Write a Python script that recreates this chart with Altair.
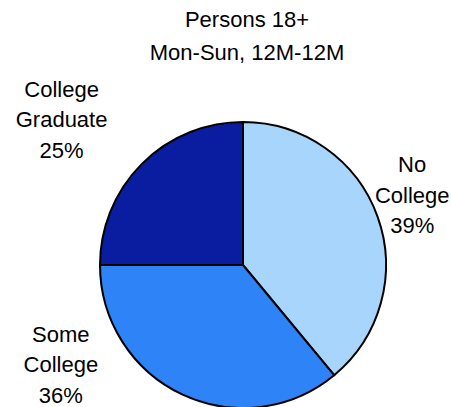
import altair as alt
import pandas as pd

categories = ["No College", "Some College", "College Graduate"]
shares = [39, 36, 25]
label_lines = [["No", "College", "39%"], ["Some", "College", "36%"], ["College", "Graduate", "25%"]]
colors = ["#a8d5fc", "#2e83f7", "#0a1ca0"]
title_lines = ["Persons 18+", "Mon-Sun, 12M-12M"]

df = pd.DataFrame({
    "category": categories,
    "share": shares,
    "order": list(range(len(categories))),
    "label": label_lines,
})

FONT = "Liberation Sans"
CX, CY, R = 243, 265, 143
theta_scale = alt.Scale(domain=[0, 100])

pie = alt.Chart(df).mark_arc(outerRadius=R, stroke="black", strokeWidth=2).encode(
    theta=alt.Theta("share:Q", stack=True, scale=theta_scale),
    order=alt.Order("order:Q"),
    x=alt.value(CX),
    y=alt.value(CY),
    color=alt.Color("category:N", scale=alt.Scale(domain=categories, range=colors), legend=None),
)

offsets = {
    "No College": (-19, -25),
    "Some College": (-97, -104),
    "College Graduate": (-40, -27),
}

label_base = alt.Chart(df).transform_window(
    cum="sum(share)", sort=[alt.SortField("order")]
).transform_calculate(mid="datum.cum - datum.share / 2")

label_layers = []
for cat in categories:
    dx, dy = offsets[cat]
    label_layers.append(
        label_base.transform_filter(alt.datum.category == cat).mark_text(
            radius=200, dx=dx, dy=dy, font=FONT, fontSize=22, lineHeight=30.5,
            align="center", baseline="alphabetic", color="black",
        ).encode(
            theta=alt.Theta("mid:Q", stack=None, scale=theta_scale),
            x=alt.value(CX),
            y=alt.value(CY),
            text="label",
        )
    )

title = alt.Chart(df).transform_filter(alt.datum.order == 0).mark_text(
    font=FONT, fontSize=22, lineHeight=33, align="center", baseline="alphabetic", color="black"
).encode(
    text=alt.value(title_lines),
    x=alt.value(247),
    y=alt.value(27),
)

chart = alt.layer(pie, *label_layers, title).properties(
    width=451, height=407, padding=0,
    autosize=alt.AutoSizeParams(type="none"),
).configure_view(stroke=None)

chart.save("out.html", embed_options={"renderer": "svg", "actions": False})
